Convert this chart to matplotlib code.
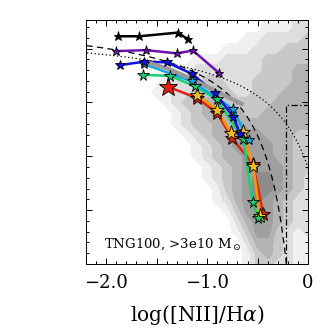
import numpy as np
import matplotlib
matplotlib.use("Agg")
import matplotlib.pyplot as plt
from matplotlib.ticker import MultipleLocator, FuncFormatter

# tracks in the BPT plane: log([NII]/Ha), log([OIII]/Hb)
black_x = [-1.885, -1.671, -1.293, -1.190]
black_y = [1.115, 1.115, 1.149, 1.088]
purple_x = [-1.901, -1.605, -1.299, -1.141, -0.879]
purple_y = [0.977, 0.986, 0.956, 0.983, 0.771]
blue_x = [-1.859, -1.629, -1.398, -1.148, -0.921, -0.740, -0.674]
blue_y = [0.848, 0.878, 0.873, 0.765, 0.587, 0.366, 0.203]
cyan_x = [-1.629, -1.148, -0.748, -0.585]
cyan_y = [0.857, 0.696, 0.442, 0.147]
green_x = [-1.635, -1.365, -1.125, -0.904, -0.642, -0.549, -0.494]
green_y = [0.756, 0.747, 0.652, 0.530, 0.157, -0.429, -0.574]
orange_x = [-1.096, -0.904, -0.766, -0.645, -0.543, -0.477]
orange_y = [0.571, 0.433, 0.218, 0.225, -0.089, -0.556]
red_x = [-1.392, -1.096, -0.901, -0.756, -0.546, -0.444]
red_y = [0.648, 0.539, 0.401, 0.172, -0.074, -0.532]
# grey reference locus
locus_x = [-1.612, -1.398, -1.168, -0.904, -0.642]
locus_y = [0.878, 0.817, 0.725, 0.602, 0.479]

# galaxy density (grey level 0-6), rows from y=1.3 down to y=-1.0,
# columns x=-2.2 ... 0.0 in steps of 0.1
dens_x = np.round(np.arange(-2.2, 0.001, 0.1), 1)
dens_y = np.round(np.arange(1.3, -1.001, -0.1), 1)
dens = np.array([
    [0, 0, 0, 0, 0, 0, 0, 0, 0, 0, 0, 0, 0, 0, 0, 0, 0, 0, 1, 1, 1, 2, 2],
    [0, 0, 0, 0, 0, 0, 0, 0, 0, 0, 0, 0, 0, 0, 0, 0, 0, 0, 1, 1, 1, 2, 2],
    [0, 0, 0, 0, 0, 0, 0, 0, 0, 0, 0, 0, 0, 0, 0, 0, 1, 1, 2, 2, 2, 2, 3],
    [0, 0, 0, 0, 0, 0, 0, 0, 0, 0, 0, 0, 0, 0, 1, 1, 1, 2, 2, 2, 3, 3, 3],
    [0, 0, 0, 0, 0, 0, 0, 0, 0, 0, 0, 1, 1, 1, 2, 2, 2, 2, 3, 3, 3, 3, 3],
    [0, 0, 0, 0, 0, 0, 0, 0, 1, 1, 1, 2, 2, 2, 2, 2, 2, 2, 3, 3, 3, 4, 4],
    [0, 0, 0, 0, 0, 0, 0, 0, 1, 2, 2, 2, 3, 3, 2, 2, 2, 3, 3, 3, 3, 4, 4],
    [0, 0, 0, 0, 0, 0, 0, 1, 1, 2, 2, 3, 3, 3, 3, 2, 2, 3, 3, 3, 4, 4, 4],
    [0, 0, 0, 0, 0, 0, 0, 0, 1, 2, 3, 3, 4, 4, 3, 3, 3, 3, 3, 4, 4, 4, 4],
    [0, 0, 0, 0, 0, 0, 0, 0, 0, 1, 2, 3, 4, 4, 4, 4, 3, 3, 4, 4, 4, 4, 4],
    [0, 0, 0, 0, 0, 0, 0, 0, 0, 1, 2, 3, 3, 4, 4, 5, 4, 4, 4, 4, 4, 4, 4],
    [0, 0, 0, 0, 0, 0, 0, 0, 0, 0, 1, 2, 3, 4, 4, 5, 5, 5, 4, 4, 4, 3, 3],
    [0, 0, 0, 0, 0, 0, 0, 0, 0, 0, 0, 1, 2, 3, 4, 5, 5, 5, 5, 4, 4, 3, 3],
    [0, 0, 0, 0, 0, 0, 0, 0, 0, 0, 0, 1, 2, 3, 4, 4, 5, 5, 5, 4, 4, 3, 3],
    [0, 0, 0, 0, 0, 0, 0, 0, 0, 0, 0, 0, 1, 2, 3, 4, 5, 5, 5, 5, 4, 3, 3],
    [0, 0, 0, 0, 0, 0, 0, 0, 0, 0, 0, 0, 1, 2, 3, 4, 5, 6, 6, 5, 4, 3, 2],
    [0, 0, 0, 0, 0, 0, 0, 0, 0, 0, 0, 0, 0, 1, 3, 4, 5, 6, 6, 5, 4, 3, 2],
    [0, 0, 0, 0, 0, 0, 0, 0, 0, 0, 0, 0, 0, 1, 2, 4, 5, 6, 5, 4, 3, 2, 2],
    [0, 0, 0, 0, 0, 0, 0, 0, 0, 0, 0, 0, 0, 0, 1, 3, 5, 5, 5, 4, 3, 2, 2],
    [0, 0, 0, 0, 0, 0, 0, 0, 0, 0, 0, 0, 0, 0, 0, 2, 4, 5, 5, 4, 3, 2, 2],
    [0, 0, 0, 0, 0, 0, 0, 0, 0, 0, 0, 0, 0, 0, 0, 1, 3, 5, 5, 3, 2, 1, 2],
    [0, 0, 0, 0, 0, 0, 0, 0, 0, 0, 0, 0, 0, 0, 0, 0, 2, 4, 4, 3, 2, 1, 1],
    [0, 0, 0, 0, 0, 0, 0, 0, 0, 0, 0, 0, 0, 0, 0, 0, 1, 3, 4, 3, 2, 1, 1],
    [0, 0, 0, 0, 0, 0, 0, 0, 0, 0, 0, 0, 0, 0, 0, 0, 1, 3, 3, 2, 2, 1, 1],
])

plt.rcParams['font.family'] = 'DejaVu Serif'
plt.rcParams['mathtext.fontset'] = 'dejavuserif'

fig = plt.figure(figsize=(3.32, 3.32), dpi=100)
ax = fig.add_axes([0.259, 0.205, 0.669, 0.736])

greys = ['#f0f0f0', '#dedede', '#c8c8c8', '#b3b3b3', '#9f9f9f', '#8c8c8c']
ax.contourf(dens_x, dens_y[::-1], dens[::-1], levels=np.arange(0.5, 7, 1),
            colors=greys, zorder=0)

# demarcation lines
xk = np.linspace(-2.3, -0.2, 300)
ax.plot(xk, 0.61 / (xk - 0.05) + 1.3, color='k', ls=(0, (5, 3.5)), lw=0.9, zorder=2)
xw = np.linspace(-2.3, 0.05, 300)
ax.plot(xw, 0.61 / (xw - 0.47) + 1.19, color='k', ls=(0, (1, 2)), lw=0.9, zorder=2)
agn_x, agn_y = np.log10(0.6), np.log10(3.0)
ax.plot([agn_x, agn_x, 0.05], [-1.1, agn_y, agn_y], color='k',
        ls=(0, (5, 2, 1, 2)), lw=0.9, zorder=2)

series = [
    (red_x, red_y, '#e0200c', '#e0200c', 10),
    (orange_x, orange_y, '#f09a00', '#f2bd1e', 11),
    (green_x, green_y, '#18d070', '#18d070', 8.5),
    (cyan_x, cyan_y, '#10a8e8', '#10a8e8', 8),
    (blue_x, blue_y, '#1010e0', '#1010e0', 7.5),
    (purple_x, purple_y, '#7010b0', '#7010b0', 6.5),
    (black_x, black_y, 'k', 'k', 6.5),
]
for i, (xs, ys, lc, mc, ms) in enumerate(series):
    ax.plot(xs, ys, color=lc, lw=1.8, zorder=3)
    ax.plot(xs, ys, ls='none', marker='*', ms=ms, mfc=mc, mec='k',
            mew=0.6, zorder=5 + i)
# first red point is the large one
ax.plot(red_x[0], red_y[0], marker='*', ms=14, mfc='#e0200c', mec='k',
        mew=0.6, zorder=5)

ax.plot(locus_x, locus_y, color='#999999', lw=3, zorder=4,
        solid_capstyle='butt')

ax.set_xlim(-2.2, 0.0)
ax.set_ylim(-1.0, 1.27)


def xfmt(v, pos):
    if abs(v - round(v)) > 1e-6:
        return ''
    if round(v) == 0:
        return '0'
    return f'{v:.1f}'.replace('-', '\u2212')


ax.xaxis.set_major_locator(MultipleLocator(0.5))
ax.xaxis.set_minor_locator(MultipleLocator(0.1))
ax.yaxis.set_major_locator(MultipleLocator(0.5))
ax.yaxis.set_minor_locator(MultipleLocator(0.1))
ax.xaxis.set_major_formatter(FuncFormatter(xfmt))
ax.yaxis.set_major_formatter(FuncFormatter(lambda v, p: ''))
ax.tick_params(which='both', direction='in', top=True, right=True,
               width=0.7, labelsize=13, pad=7)
ax.tick_params(which='major', length=4)
ax.tick_params(which='minor', length=2)
for sp in ax.spines.values():
    sp.set_linewidth(0.7)

ax.set_xlabel(r'log([NII]/H$\alpha$)', fontsize=14.5, labelpad=8)
ax.text(0.08, 0.065, r'TNG100, >3e10 M$_\odot$', transform=ax.transAxes,
        fontsize=9.5, va='baseline', zorder=20)

fig.savefig('out.png', dpi=100)
